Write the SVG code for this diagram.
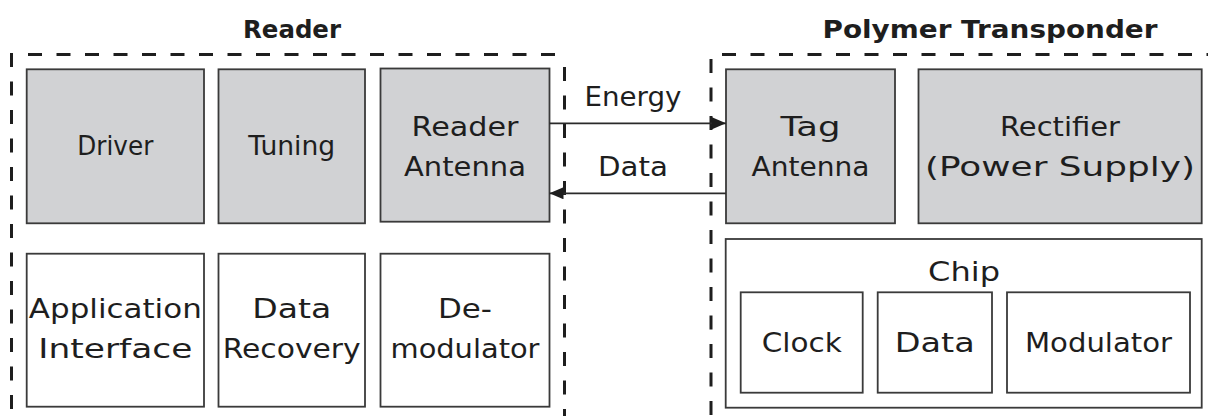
<svg xmlns="http://www.w3.org/2000/svg" width="1208" height="416" viewBox="0 0 1208 416">
<defs>
<style>
.dash{fill:none;stroke:#1e1e1e;stroke-width:3;stroke-dasharray:14 14.5}
.g{fill:#d1d2d4;stroke:#3a3a3a;stroke-width:1.8}
.w{fill:#ffffff;stroke:#3a3a3a;stroke-width:1.8}
.t{font-family:"DejaVu Sans",sans-serif;font-size:26px;fill:#1e1e1e;text-anchor:middle}
.h{font-family:"DejaVu Sans",sans-serif;font-size:24px;font-weight:bold;fill:#1e1e1e;text-anchor:middle}
.c{stroke:#2a2a2a;stroke-width:1.8;fill:none}
</style>
<marker id="ah" viewBox="0 0 14 12" refX="14" refY="6" markerWidth="14" markerHeight="12" markerUnits="userSpaceOnUse" orient="auto">
<path d="M0,0 L14,6 L0,12 z" fill="#1e1e1e"/>
</marker>
</defs>
<rect width="1208" height="416" fill="#ffffff"/>
<g id="reader-group">
<text class="h" x="292" y="38" textLength="98" lengthAdjust="spacingAndGlyphs">Reader</text>
<path class="dash" d="M11.5,53 V416"/>
<path class="dash" d="M28,54.5 H563"/>
<path class="dash" d="M564.5,67 V416"/>
</g>
<g id="transponder-group">
<text class="h" x="990" y="38" textLength="335" lengthAdjust="spacingAndGlyphs">Polymer Transponder</text>
<path class="dash" d="M711,59 V416"/>
<path class="dash" d="M722,54.5 H1208"/>
</g>
<g id="driver">
<rect class="g" x="26.7" y="69.3" width="177.3" height="154"/>
<text class="t" x="115.3" y="155" textLength="76" lengthAdjust="spacingAndGlyphs">Driver</text>
</g>
<g id="tuning">
<rect class="g" x="218.5" y="69.3" width="146.5" height="154"/>
<text class="t" x="291.7" y="155" textLength="87" lengthAdjust="spacingAndGlyphs">Tuning</text>
</g>
<g id="reader-antenna">
<rect class="g" x="380.5" y="68.5" width="169" height="153.2"/>
<text class="t" x="465" y="136" textLength="107" lengthAdjust="spacingAndGlyphs">Reader</text>
<text class="t" x="465" y="176" textLength="122" lengthAdjust="spacingAndGlyphs">Antenna</text>
</g>
<g id="application-interface">
<rect class="w" x="26.7" y="253.7" width="177.3" height="153"/>
<text class="t" x="115.3" y="318" textLength="173" lengthAdjust="spacingAndGlyphs">Application</text>
<text class="t" x="115.3" y="358" textLength="154" lengthAdjust="spacingAndGlyphs">Interface</text>
</g>
<g id="data-recovery">
<rect class="w" x="218.5" y="253.7" width="146.5" height="153"/>
<text class="t" x="291.7" y="318" textLength="79" lengthAdjust="spacingAndGlyphs">Data</text>
<text class="t" x="291.7" y="358" textLength="138" lengthAdjust="spacingAndGlyphs">Recovery</text>
</g>
<g id="demodulator">
<rect class="w" x="380.5" y="253.7" width="169" height="153"/>
<text class="t" x="465" y="318" textLength="54" lengthAdjust="spacingAndGlyphs">De-</text>
<text class="t" x="465" y="358" textLength="149" lengthAdjust="spacingAndGlyphs">modulator</text>
</g>
<g id="tag-antenna">
<rect class="g" x="726" y="69.3" width="169" height="154"/>
<text class="t" x="810.5" y="136" textLength="60" lengthAdjust="spacingAndGlyphs">Tag</text>
<text class="t" x="810.5" y="176" textLength="118" lengthAdjust="spacingAndGlyphs">Antenna</text>
</g>
<g id="rectifier">
<rect class="g" x="918.5" y="69.3" width="283.2" height="154"/>
<text class="t" x="1060" y="136" textLength="120" lengthAdjust="spacingAndGlyphs">Rectifier</text>
<text class="t" x="1060" y="176" textLength="270" lengthAdjust="spacingAndGlyphs">(Power Supply)</text>
</g>
<g id="chip">
<rect class="w" x="725.7" y="239" width="476" height="168.7"/>
<text class="t" x="964" y="281" textLength="72" lengthAdjust="spacingAndGlyphs">Chip</text>
</g>
<g id="clock">
<rect class="w" x="740.7" y="292.3" width="122" height="100.4"/>
<text class="t" x="801.7" y="352" textLength="80" lengthAdjust="spacingAndGlyphs">Clock</text>
</g>
<g id="data">
<rect class="w" x="877.7" y="292.3" width="114.3" height="100.4"/>
<text class="t" x="934.8" y="352" textLength="80" lengthAdjust="spacingAndGlyphs">Data</text>
</g>
<g id="modulator">
<rect class="w" x="1007" y="292.3" width="183" height="100.4"/>
<text class="t" x="1098.5" y="352" textLength="147" lengthAdjust="spacingAndGlyphs">Modulator</text>
</g>
<g id="connectors">
<line class="c" x1="549.5" y1="123.3" x2="726" y2="123.3" marker-end="url(#ah)"/>
<text class="t" x="633" y="106" textLength="97" lengthAdjust="spacingAndGlyphs">Energy</text>
<line class="c" x1="726" y1="193.3" x2="549.5" y2="193.3" marker-end="url(#ah)"/>
<text class="t" x="633" y="176" textLength="70" lengthAdjust="spacingAndGlyphs">Data</text>
</g>
</svg>
